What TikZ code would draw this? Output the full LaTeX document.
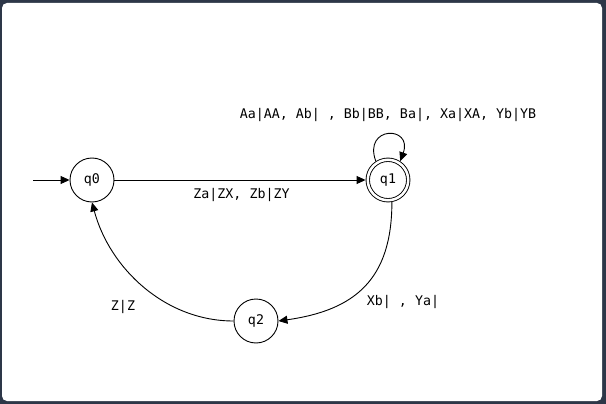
\documentclass[tikz,border=0pt]{standalone}
\usepackage{fontspec}
\setmonofont{DejaVu Sans Mono}
\usepackage{xcolor}
\usepackage{tikz}
\usetikzlibrary{arrows.meta}
\definecolor{framegray}{RGB}{45,55,72}
\definecolor{inkblack}{RGB}{0,0,0}

\begin{document}
\begin{tikzpicture}[x=1pt, y=-1pt, >={Triangle[length=9pt, width=8pt]},
  line width=0.9pt, inkblack,
  state/.style={draw, circle, minimum size=44pt, inner sep=0pt,
                font=\fontsize{13.3}{16}\ttfamily\selectfont},
  accept/.style={state, double, double distance=2.5pt, minimum size=40.5pt, outer sep=2.2pt},
  lbl/.style={font=\fontsize{13.3}{16}\ttfamily\selectfont, inner sep=0pt}]
  \useasboundingbox (0,0) rectangle (606,404);
  \fill[framegray] (0,0) rectangle (606,404);
  \fill[white, rounded corners=5pt] (2,3) rectangle (602,401);
  \node[state] (q0) at (92,180) {q0};
  \node[accept] (q1) at (388,180) {q1};
  \node[state] (q2) at (256,321) {q2};
  \coordinate (start) at (33,180);
  \draw[->] (start) -- (q0);
  \draw[->] (q0) -- (q1);
  \draw[->] (q1.123) .. controls +(-110:38) and +(-70:38) .. (q1.57);
  \draw[->] (q1.-80) to[out=-90, in=8, looseness=1.2] (q2.east);
  \draw[->] (q2.west) to[out=180, in=-75, looseness=0.95] (q0.south);
  \node[lbl] (lloop) at (388,115) {Aa|AA, Ab| , Bb|BB, Ba|, Xa|XA, Yb|YB};
  \node[lbl] (lq01) at (241.5,195) {Za|ZX, Zb|ZY};
  \node[lbl] (lq12) at (403,302) {Xb| , Ya|};
  \node[lbl] (lq20) at (123,307) {Z|Z};
\end{tikzpicture}
\end{document}
